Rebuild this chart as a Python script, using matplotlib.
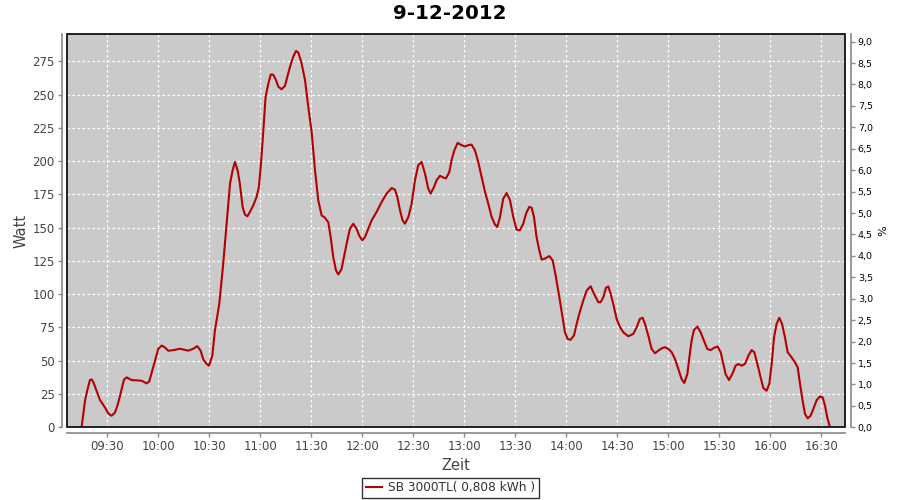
import datetime as dt
import matplotlib
matplotlib.use("Agg")
import matplotlib.pyplot as plt
from matplotlib.patches import Rectangle

# ---- data (minutes of day, Watt) ----
minutes = [554.9, 555.9, 556.9, 558.2, 559.8, 560.8, 561.8, 563.7, 565.7, 568.6,
           570.6, 572.5, 574.5, 575.9, 577.5, 579.8, 581.4, 584.3, 590.2, 593.1,
           594.7, 596.1, 598.0, 600.0, 602.0, 603.9, 605.9, 608.8, 612.7, 617.6,
           620.6, 622.9, 624.9, 626.5, 628.4, 629.8, 631.8, 633.3, 635.9, 638.2,
           640.2, 642.2, 643.7, 645.1, 646.7, 648.0, 649.6, 651.0, 652.4, 653.9,
           655.9, 657.8, 659.2, 660.4, 661.8, 663.1, 664.7, 666.1, 667.6, 669.2,
           670.6, 672.5, 674.5, 675.9, 677.5, 679.4, 681.0, 682.4, 684.3, 686.3,
           688.2, 690.2, 692.2,
           694.1, 696.1, 698.0, 700.0, 701.4, 702.9, 704.5, 705.9, 707.8, 709.2,
           710.8, 712.7, 714.7, 716.7, 718.2, 720.0, 721.6, 723.5, 725.5, 728.4,
           731.4, 734.3, 737.3, 739.2, 740.6, 742.2, 743.7, 745.1, 747.1, 749.0,
           751.0, 752.9, 754.9, 756.9, 758.8, 760.2, 762.2, 763.7, 765.7, 767.6,
           769.2, 771.2, 772.5, 774.1, 776.1, 778.4, 780.4, 782.4, 784.3, 786.3,
           788.2, 790.2, 792.2, 794.1, 796.1, 798.0, 799.4, 801.0, 802.9, 804.9,
           806.9, 808.8, 810.8, 812.7, 814.7, 816.3, 818.2, 819.6, 821.0, 822.5,
           824.1, 825.5, 827.5, 830.0, 832.0, 833.9, 835.9, 837.8, 839.2, 840.8,
           842.5, 844.5, 846.1, 847.6,
           850.0, 852.0, 854.3, 856.3, 858.8, 860.2, 861.8, 863.3, 864.7, 866.1,
           867.6, 869.6, 871.6, 873.5, 876.5, 879.4, 881.4, 883.3, 884.9, 886.3,
           888.2, 890.2, 892.2, 894.1, 896.1, 898.0, 900.0, 902.0, 903.9, 905.9,
           907.8, 909.4, 911.2, 912.4, 913.7, 915.1, 917.1, 919.0, 921.0, 922.9,
           924.9, 926.9, 929.0, 930.8, 932.4, 933.7, 935.7, 937.6, 939.6, 941.2,
           943.1, 945.1, 947.1, 949.0, 950.6, 952.4, 954.3, 955.9, 957.8, 959.4,
           960.8, 962.2, 963.7, 965.3, 966.9, 968.6, 970.2, 972.5, 974.5, 976.1,
           977.5, 979.0, 980.4, 982.0, 983.7, 985.3, 987.3, 989.2, 990.8, 992.2,
           993.5, 995.1]
watt = [0, 10, 20, 27.5, 35.5, 36, 34, 27.5, 20.5, 15,
        10.4, 8.7, 11, 16, 23.7, 35.7, 37.5, 35.5, 35, 33,
        34.5, 41, 50, 59, 61.4, 60, 57.5, 58, 59, 57.6,
        59, 61, 57.6, 51, 47.6, 46.3, 53.8, 72.7, 92.8, 122.9,
        153, 183, 193, 199.4, 193, 183, 165.6, 159.8, 158.5, 161.8,
        166.8, 173, 180.6, 198, 223, 248, 258, 265, 265, 261,
        256, 254, 256.5, 263.4, 271, 278.5, 282.8, 281.5, 273.5, 261,
        241, 222, 193,
        170.6, 159.2, 157.5, 154, 143, 128, 118, 114.8, 119, 128,
        138, 149, 153, 149, 144, 140.5, 143, 149, 155.5, 161.8,
        169.3, 175.6, 179.8, 178.6, 173, 163, 155.5, 153, 158, 168,
        185.6, 197, 199.4, 190.6, 179.4, 175.6, 180.6, 185.6, 189, 187.7,
        187, 191.8, 200.6, 208, 213.7, 212, 211, 212, 212.4, 208,
        199.4, 188, 176.8, 168, 158, 152.5, 150.5, 158, 171.8, 176,
        170.6, 158, 148.4, 148, 153, 160.5, 165.6, 165, 158, 143,
        133, 126, 126.8, 128.7, 125.4, 113, 97.8, 82.8, 71.4, 66.4,
        65.7, 69, 77.7, 85.2,
        95.3, 102.8, 106, 100.3, 94, 94, 97.8, 104.8, 105.8, 100.3,
        92.8, 81.5, 75.2, 71.4, 68.4, 70.2, 75.2, 81.5, 82.3, 77.7,
        69, 58.9, 55.6, 57.6, 59.4, 60.2, 58.9, 56.4, 51.4, 43.8,
        36.3, 33.3, 40, 52.6, 65.1, 73.2, 75.7, 71.4, 65.1, 58.9,
        58, 59.7, 60.7, 56.4, 47.6, 40, 35.5, 40, 46.3, 47.6,
        46.3, 47.6, 53.8, 58, 56.4, 47.6, 37.5, 29.5, 27.5, 32.5,
        47.6, 67.7, 77.7, 82.3, 77.7, 67.7, 56.4, 52.6, 48.8, 45,
        32.5, 20, 10, 6.7, 8.7, 13.7, 20.5, 23.2, 22.5, 16.2,
        7.4, 0]

title = "9-12-2012"
series_label = "SB 3000TL( 0,808 kWh )"
left_ticks = list(range(0, 276, 25))
right_ticks = [i * 0.5 for i in range(19)]
x_tick_labels = ["09:30", "10:00", "10:30", "11:00", "11:30", "12:00", "12:30",
                 "13:00", "13:30", "14:00", "14:30", "15:00", "15:30", "16:00", "16:30"]

day = dt.datetime(2012, 12, 9)
times = [day + dt.timedelta(minutes=m) for m in minutes]
x_ticks = [day + dt.timedelta(hours=int(s[:2]), minutes=int(s[3:])) for s in x_tick_labels]

plt.rcParams["font.family"] = ["DejaVu Sans"]

fig = plt.figure(figsize=(9, 5), dpi=100)
ax = fig.add_axes([0.0748, 0.1454, 0.9392 - 0.0748, 0.9314 - 0.1454])
ax.set_facecolor("#CACACA")

line, = ax.plot(times, watt, color="#B40000", lw=1.5, label=series_label, zorder=3)

ax.set_xlim(day + dt.timedelta(minutes=546.5), day + dt.timedelta(minutes=1004.1))
ax.set_ylim(0, 295.3)
ax.set_yticks(left_ticks)
ax.set_xticks(x_ticks)
ax.set_xticklabels(x_tick_labels)

ax.grid(True, color="white", linestyle=(0, (2, 2)), lw=0.9)
ax.set_axisbelow(True)

gray = "#888888"
for s in ("top", "right"):
    ax.spines[s].set_visible(False)
for s in ("left", "bottom"):
    ax.spines[s].set_position(("outward", 4))
    ax.spines[s].set_color(gray)
    ax.spines[s].set_linewidth(1.2)
ax.tick_params(axis="both", colors=gray, length=3, width=1, labelcolor="#444444",
               labelsize=8.5, pad=2)

ax.add_patch(Rectangle((0, 0), 1, 1, transform=ax.transAxes, fill=False,
                       ec="black", lw=1.2, clip_on=False, zorder=5))

ax.set_xlabel("Zeit", fontsize=10.5, color="#444444", labelpad=4)
ax.set_ylabel("Watt", fontsize=10.5, color="#444444", labelpad=3)

ax2 = ax.twinx()
ax2.set_ylim(0, 9.17)
ax2.set_yticks(right_ticks)
ax2.set_yticklabels([f"{v:.1f}".replace(".", ",") for v in right_ticks])
for s in ("top", "left", "bottom"):
    ax2.spines[s].set_visible(False)
ax2.spines["right"].set_position(("outward", 4))
ax2.spines["right"].set_color(gray)
ax2.spines["right"].set_linewidth(1.2)
ax2.tick_params(axis="y", colors=gray, length=3, width=1, labelcolor="black",
                labelsize=6.8, pad=2)
ax2.set_ylabel("%", fontsize=8, color="black", labelpad=4)

fig.suptitle(title, x=0.5, y=0.992, fontsize=14.3, fontweight="bold")

leg = fig.legend(handles=[line], loc="center", bbox_to_anchor=(0.5006, 0.024),
                 fontsize=8.7, frameon=True, fancybox=False, handlelength=1.3,
                 handletextpad=0.5, borderpad=0.3, borderaxespad=0)
leg.get_frame().set_edgecolor("black")
leg.get_frame().set_linewidth(1)
for t in leg.get_texts():
    t.set_color("#333333")

fig.savefig("out.png", dpi=100)
